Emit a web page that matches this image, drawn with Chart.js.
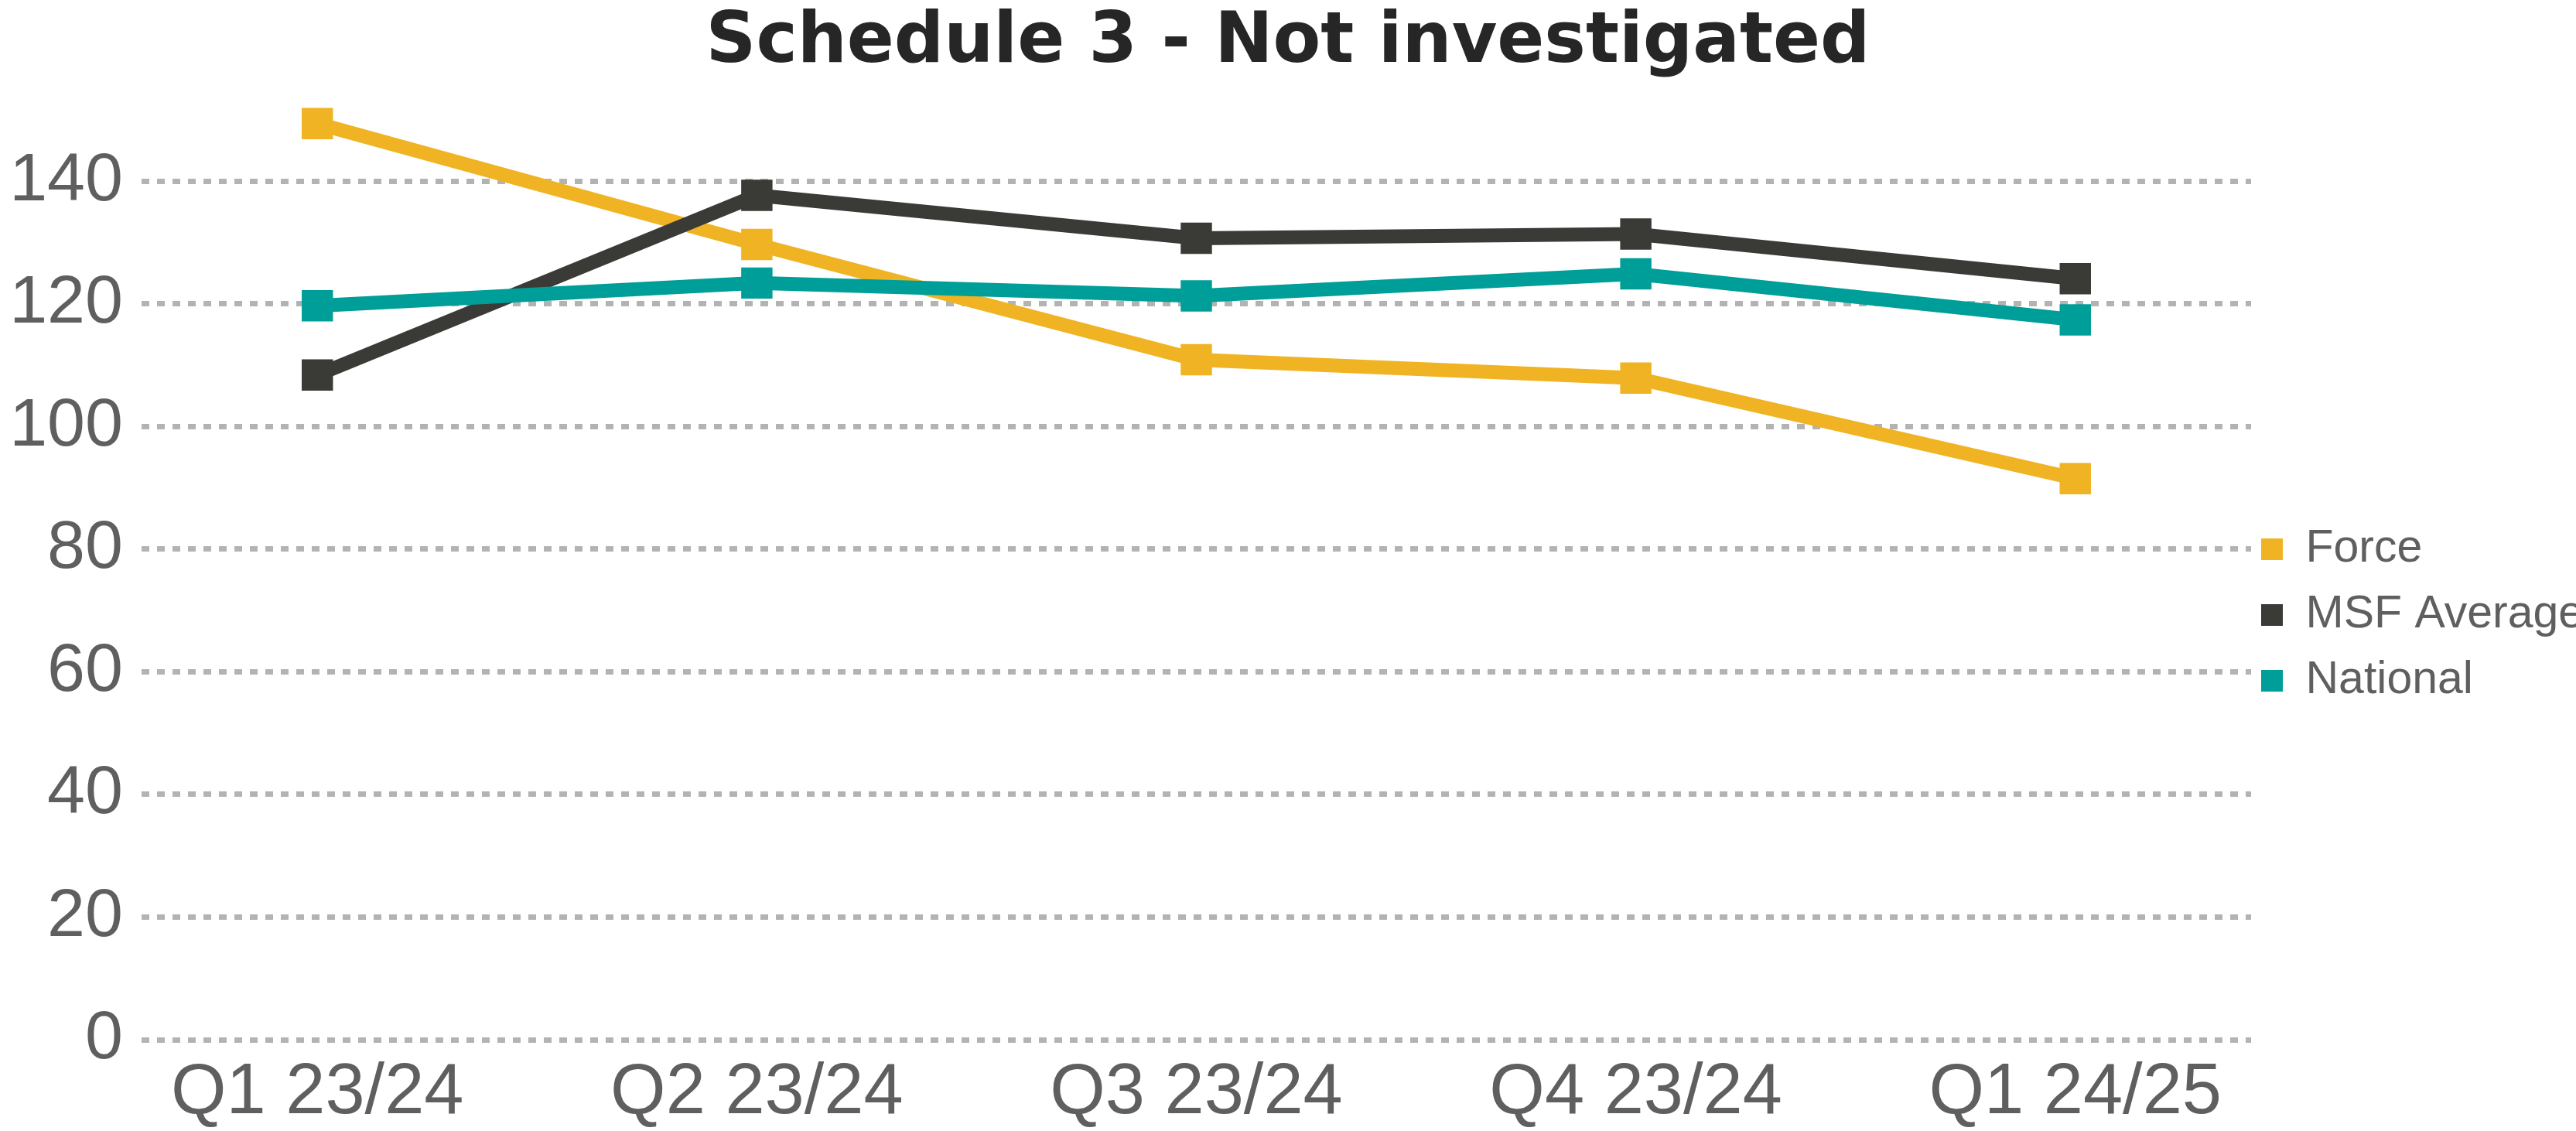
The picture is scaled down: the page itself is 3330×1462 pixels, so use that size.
<!DOCTYPE html>
<html>
<head>
<meta charset="utf-8">
<title>Schedule 3 - Not investigated</title>
<script src="https://cdn.jsdelivr.net/npm/chart.js@4.4.1/dist/chart.umd.min.js"></script>
<style>
  html, body { margin: 0; padding: 0; background: #ffffff; }
  canvas { display: block; }
</style>
</head>
<body>
<canvas id="myChart" width="3330" height="1462"></canvas>
<script>
// quarters on the x axis
const quarters = ['Q1 23/24', 'Q2 23/24', 'Q3 23/24', 'Q4 23/24', 'Q1 24/25'];

// values
const force = [149.4, 129.7, 110.9, 107.9, 91.5];
const msfAverage = [108.4, 137.7, 130.7, 131.4, 124.1];
const national = [119.7, 123.4, 121.3, 124.9, 117.4];

const seriesNames = ['Force', 'MSF Average', 'National'];
const seriesColors = ['#F0B323', '#3A3B37', '#009E98'];

const textGrey = '#5F5F5F';

function makeSet(i, values) {
    return {
        label: seriesNames[i],
        data: values.map((v, k) => ({ x: k, y: v })),
        borderColor: seriesColors[i],
        backgroundColor: seriesColors[i],
        borderWidth: 18,
        pointStyle: 'rect',
        pointRadius: 28.6,
        pointBorderWidth: 0,
        pointBackgroundColor: seriesColors[i],
        tension: 0,
        clip: false,
        // later series sit on top, like the original
        order: 2 - i
    };
}

const data = {
    datasets: [
        makeSet(0, force),
        makeSet(1, msfAverage),
        makeSet(2, national)
    ]
};

const config = {
    type: 'line',
    data: data,
    options: {
        responsive: false,
        animation: false,
        devicePixelRatio: 1,
        layout: {
            padding: 0
        },
        plugins: {
            title: {
                display: true,
                text: 'Schedule 3 - Not investigated',
                color: '#262626',
                font: { family: 'DejaVu Sans', weight: 'bold', size: 90, lineHeight: 1 },
                padding: { top: 12, bottom: 53 }
            },
            legend: {
                position: 'right',
                align: 'center',
                maxWidth: 420,
                // empty title only pushes the entries down a little
                title: {
                    display: true,
                    text: '',
                    font: { size: 11, lineHeight: 1 },
                    padding: { top: 130, bottom: 0 }
                },
                labels: {
                    boxWidth: 28,
                    boxHeight: 28,
                    padding: 13,
                    color: textGrey,
                    font: { family: 'Liberation Sans', size: 59, lineHeight: 1.22 },
                    sort: (a, b) => a.datasetIndex - b.datasetIndex,
                    generateLabels: function(chart) {
                        const items = Chart.defaults.plugins.legend.labels.generateLabels(chart);
                        return items.map(function(it) {
                            it.text = [it.text];
                            it.fillStyle = seriesColors[it.datasetIndex];
                            it.strokeStyle = seriesColors[it.datasetIndex];
                            it.lineWidth = 0;
                            return it;
                        });
                    }
                }
            },
            tooltip: { enabled: false }
        },
        scales: {
            x: {
                type: 'linear',
                min: -0.4,
                max: 4.4,
                grid: { display: false, drawTicks: false },
                border: { display: false },
                afterBuildTicks: function(scale) {
                    scale.ticks = quarters.map((q, i) => ({ value: i }));
                },
                afterFit: function(scale) {
                    scale.height = 118;
                },
                ticks: {
                    autoSkip: false,
                    maxRotation: 0,
                    padding: 24,
                    color: textGrey,
                    font: { family: 'Liberation Sans', size: 92, lineHeight: 1 },
                    callback: function(value) {
                        return quarters[value];
                    }
                }
            },
            y: {
                min: 0,
                max: 150,
                grid: {
                    color: '#B3B3B3',
                    lineWidth: 7,
                    drawTicks: false
                },
                border: { display: false, dash: [10, 10] },
                afterFit: function(scale) {
                    scale.width = 183;
                },
                ticks: {
                    stepSize: 20,
                    includeBounds: false,
                    padding: 24,
                    color: textGrey,
                    font: { family: 'Liberation Sans', size: 88, lineHeight: 1 }
                }
            }
        }
    }
};

const myChart = new Chart(
    document.getElementById('myChart'),
    config
);
</script>
</body>
</html>
